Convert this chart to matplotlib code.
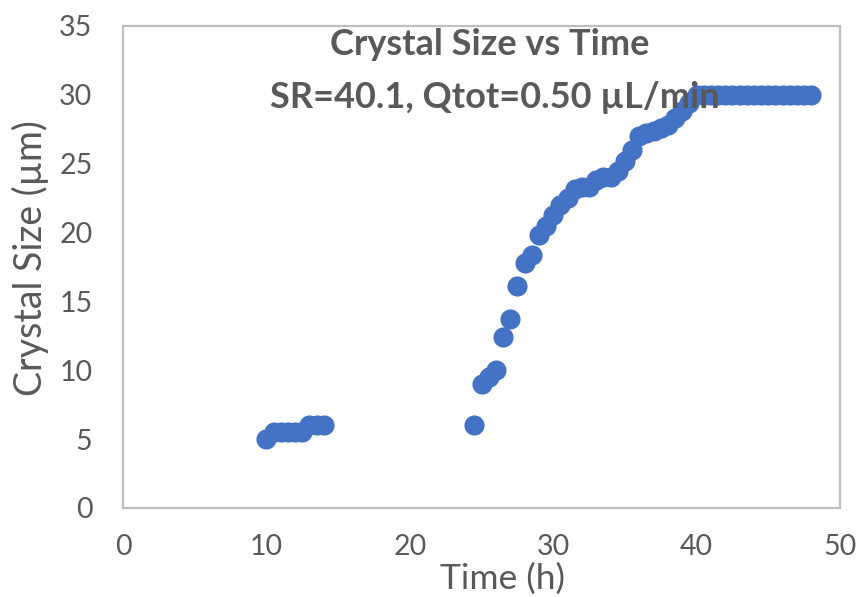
import matplotlib.pyplot as plt

# ------------------ DADOS ------------------ #
tempo_inicio = [10, 10.5, 11, 11.5, 12, 12.5, 13, 13.5, 14]
tamanho_inicio = [5.0, 5.5, 5.5, 5.5, 5.5, 5.5, 6.0, 6.0, 6.0]

tempo_fim = [24.5, 25, 25.5, 26, 26.5, 27, 27.5, 28, 28.5, 29, 29.5, 30,
             30.5, 31, 31.5, 32, 32.5, 33, 33.5, 34, 34.5, 35, 35.5, 36,
             36.5, 37, 37.5, 38, 38.5, 39, 39.5, 40, 40.5, 41, 41.5, 42,
             42.5, 43, 43.5, 44, 44.5, 45, 45.5, 46, 46.5, 47, 47.5, 48]
tamanho_fim = [6.0, 9.0, 9.5, 10.0, 12.4, 13.7, 16.1, 17.8, 18.4, 19.8, 20.5, 21.3,
               22.0, 22.5, 23.2, 23.3, 23.3, 23.8, 24.0, 24.0, 24.5, 25.2, 26.0, 27.0,
               27.2, 27.4, 27.6, 27.8, 28.3, 28.8, 29.4, 30.0, 30.0, 30.0, 30.0, 30.0,
               30.0, 30.0, 30.0, 30.0, 30.0, 30.0, 30.0, 30.0, 30.0, 30.0, 30.0, 30.0]

tempo = tempo_inicio + tempo_fim
tamanho = tamanho_inicio + tamanho_fim

x_ticks = [0, 10, 20, 30, 40, 50]
y_ticks = [0, 5, 10, 15, 20, 25, 30, 35]

titulo1 = "Crystal Size vs Time"
titulo2 = "SR=40.1, Qtot=0.50 µL/min"

# ------------------ GRÁFICO ------------------ #
plt.rcParams['font.family'] = ['Lato', 'DejaVu Sans']
cinza = "#595959"

fig = plt.figure(figsize=(8.61, 5.97), dpi=100)
ax = fig.add_axes([123 / 861, 1 - 508 / 597, 717 / 861, 482 / 597])

ax.plot(tempo, tamanho, 'o', color="#4472C4", markersize=14.5,
        markeredgewidth=0, zorder=2)

ax.set_xlim(0, 50)
ax.set_ylim(0, 35)
ax.set_xticks(x_ticks)
ax.set_yticks(y_ticks)
ax.tick_params(axis='both', length=0, labelsize=20.5, labelcolor=cinza)
ax.tick_params(axis='x', pad=19)
ax.tick_params(axis='y', pad=22)

for lado in ax.spines.values():
    lado.set_color("#BFBFBF")
    lado.set_linewidth(1.6)

# rótulos dos eixos
fig.text(503 / 861, 1 - 579 / 597, "Time (h)", fontsize=25.5, color=cinza,
         ha='center', va='center')
fig.text(30 / 861, 1 - 258 / 597, "Crystal Size (µm)", fontsize=27, color=cinza,
         ha='center', va='center', rotation=90)

ax.text(0.512, 0.961, titulo1, transform=ax.transAxes, ha='center', va='center',
        fontsize=26, fontweight='bold', color=cinza, zorder=5)
ax.text(0.519, 0.851, titulo2, transform=ax.transAxes, ha='center', va='center',
        fontsize=26, fontweight='bold', color=cinza, zorder=5)

fig.savefig("out.png", dpi=100)
